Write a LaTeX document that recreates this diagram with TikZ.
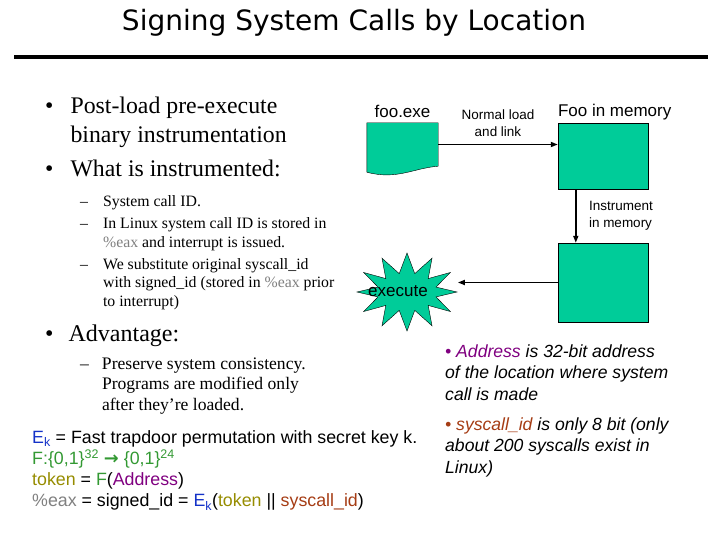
\documentclass[tikz,border=0pt]{standalone}
\usepackage{fontspec}
\setmainfont{Liberation Serif}
\newfontfamily\arialf{Liberation Sans}
\newfontfamily\titlef{DejaVu Sans}
\usetikzlibrary{arrows.meta,calc,positioning,shapes.symbols}
\definecolor{boxgreen}{RGB}{0,204,153}
\definecolor{keyblue}{RGB}{20,50,200}
\definecolor{fgreen}{RGB}{51,153,51}
\definecolor{tokolive}{RGB}{150,140,0}
\definecolor{addrpurple}{RGB}{128,0,128}
\definecolor{eaxgray}{RGB}{128,128,128}
\definecolor{sysbrown}{RGB}{165,60,20}
\newcommand{\Ek}{\textcolor{keyblue}{E\textsubscript{k}}}
\newcommand{\eaxg}{\textcolor{eaxgray}{\%eax}}

\begin{document}
\begin{tikzpicture}[
    x=1pt,y=-1pt,>=Stealth,
    flow/.style={-{Triangle[length=7pt,width=5pt]},line width=1.6pt},
    membox/.style={draw,fill=boxgreen,minimum width=90pt,inner sep=0pt},
    titletxt/.style={font=\titlef\fontsize{28}{34}\selectfont,inner sep=0pt,anchor=base},
    bigtxt/.style={font=\fontsize{23.8}{29}\selectfont,inner sep=0pt,anchor=base west},
    advtxt/.style={font=\fontsize{24}{30}\selectfont,inner sep=0pt,anchor=base west},
    subtxt/.style={font=\fontsize{15.8}{18.5}\selectfont,inner sep=0pt,anchor=base west},
    advsubtxt/.style={font=\fontsize{17.6}{20.5}\selectfont,inner sep=0pt,anchor=base west},
    arialtxt/.style={font=\arialf\fontsize{17}{21.3}\selectfont,inner sep=0pt,anchor=base west},
    formtxt/.style={font=\arialf\fontsize{17.8}{21.3}\selectfont,inner sep=0pt,anchor=base west},
    itxt/.style={font=\arialf\itshape\fontsize{17.6}{21.5}\selectfont,inner sep=0pt,anchor=base west},
    smalltxt/.style={font=\arialf\fontsize{13.5}{16.5}\selectfont,inner sep=0pt}]
  \useasboundingbox (0,0) rectangle (720,540);
  % title and rule
  \node[titletxt] (title) at (354,31) {Signing System Calls by Location};
  \coordinate (ruleL) at (14,57);
  \coordinate (ruleR) at (708,57);
  \draw[line width=4pt] (ruleL) -- (ruleR);
  % left column
  \node[bigtxt] (postload) at (45,114) {\begin{tabular}[t]{@{}l@{\hspace{17pt}}l@{}}
    •&Post-load pre-execute\\ &binary instrumentation\end{tabular}};
  \node[bigtxt] (whatis) at (45,177) {\begin{tabular}[t]{@{}l@{\hspace{17pt}}l@{}}
    •&What is instrumented:\end{tabular}};
  \node[subtxt] (sublist) at (80,207) {\begin{tabular}[t]{@{}l@{\hspace{15pt}}l@{}}
    –&System call ID.\\[3.5pt]
    –&In Linux system call ID is stored in\\
     &\eaxg{} and interrupt is issued.\\[3.5pt]
    –&We substitute original syscall\_id\\
     &with signed\_id (stored in \eaxg{} prior\\
     &to interrupt)\end{tabular}};
  \node[advtxt] (advant) at (45,341) {\begin{tabular}[t]{@{}l@{\hspace{15pt}}l@{}}
    •&Advantage:\end{tabular}};
  \node[advsubtxt] (preserve) at (80,369) {\begin{tabular}[t]{@{}l@{\hspace{13pt}}l@{}}
    –&Preserve system consistency.\\
     &Programs are modified only\\
     &after they’re loaded.\end{tabular}};
  % formulas
  \node[formtxt] (formulas) at (32,443) {\begin{tabular}[t]{@{}l@{}}
    \Ek{} = Fast trapdoor permutation with secret key k.\\
    \textcolor{fgreen}{F:\{0,1\}\textsuperscript{32} {\titlef\bfseries →} \{0,1\}\textsuperscript{24}}\\
    \textcolor{tokolive}{token} = \textcolor{fgreen}{F}(\textcolor{addrpurple}{Address})\\
    \eaxg{} = signed\_id = \Ek(\textcolor{tokolive}{token} || \textcolor{sysbrown}{syscall\_id})\end{tabular}};
  % notes on the right
  \node[itxt] (addrnote) at (445,357) {\begin{tabular}[t]{@{}l@{}}
    \textcolor{addrpurple}{• Address} is 32-bit address\\
    of the location where system\\
    call is made\end{tabular}};
  \node[itxt] (sysnote) at (445,430) {\begin{tabular}[t]{@{}l@{}}
    \textcolor{sysbrown}{• syscall\_id} is only 8 bit (only\\
    about 200 syscalls exist in\\
    Linux)\end{tabular}};
  % loading diagram
  \node[minimum width=71pt,minimum height=43pt,inner sep=0pt] (exe) at (402.5,144.5) {};
  \filldraw[fill=boxgreen] (exe.north west) -- (exe.north east) -- (exe.south east)
    .. controls +(-25,2) and +(30,8) .. ($(exe.south west)+(0,6)$) -- cycle;
  \node[arialtxt,anchor=south,above=5pt of exe] (exelbl) {foo.exe};
  \node[membox,minimum height=66pt] (mem) at (603,156) {};
  \node[arialtxt,anchor=south west,above right=2.5pt and 0pt of mem.north west] (memlbl) {Foo in memory};
  \node[membox,minimum height=79pt] (inst) at (603,282.5) {};
  \node[starburst,starburst points=12,starburst point height=20pt,random starburst=0,
    draw,fill=boxgreen,minimum width=100pt,minimum height=78pt,inner sep=0pt] (exec) at (407,292) {};
  \node[arialtxt] (execlbl) at (368,296) {execute};
  \coordinate (memtop) at ($(mem.south west)+(18,0)$);
  \coordinate (instop) at ($(inst.north west)+(18,0)$);
  \draw[flow] (exe.east) -- (exe.east -| mem.west);
  \draw[flow] (memtop) -- (instop);
  \draw[flow] (inst.west) -- (inst.west -| exec.east);
  \node[smalltxt,align=center,above=8pt] (loadlbl) at ($(exe.east)!0.5!(exe.east -| mem.west)$) {Normal load\\and link};
  \node[smalltxt,align=left,right=13pt] (instlbl) at ($(memtop)!0.5!(instop)$) {Instrument\\in memory};
\end{tikzpicture}
\end{document}
